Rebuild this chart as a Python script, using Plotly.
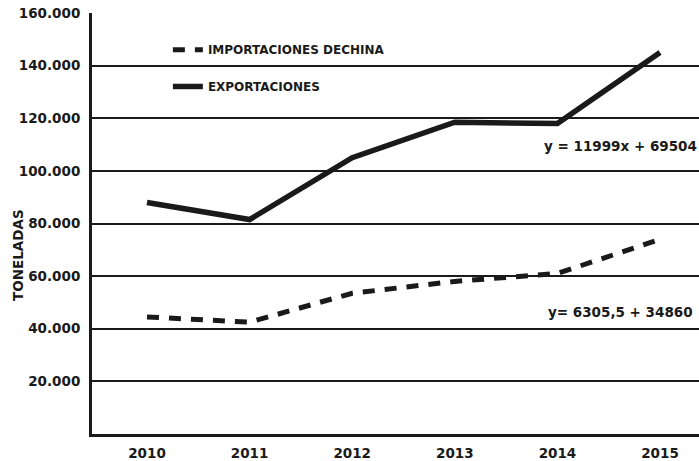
import plotly.graph_objects as go

years = [2010, 2011, 2012, 2013, 2014, 2015]
exportaciones = [88000, 81500, 105000, 118500, 118000, 145000]
importaciones = [44500, 42500, 53500, 58000, 61000, 74000]
y_ticks = [20000, 40000, 60000, 80000, 100000, 120000, 140000, 160000]
x_labels = ["2010", "2011", "2012", "2013", "2014", "2015"]

FONT = "'DejaVu Sans', sans-serif"
INK = "#1a1a1a"

fig = go.Figure()
fig.add_trace(go.Scatter(
    x=years, y=importaciones, mode="lines", name="IMPORTACIONES DECHINA",
    line=dict(color=INK, width=5, dash="12px,10px"), legend="legend",
))
fig.add_trace(go.Scatter(
    x=years, y=exportaciones, mode="lines", name="EXPORTACIONES",
    line=dict(color=INK, width=5.5), legend="legend2",
))

fig.add_annotation(x=1, xref="paper", xanchor="right", y=113200, yref="y",
                   yanchor="top", text="<b>y = 11999x + 69504</b>", showarrow=False,
                   font=dict(family=FONT, size=13.5, color=INK))
fig.add_annotation(x=0.993, xref="paper", xanchor="right", y=50200, yref="y",
                   yanchor="top", text="<b>y= 6305,5 + 34860</b>", showarrow=False,
                   font=dict(family=FONT, size=13.5, color=INK))
fig.add_annotation(x=-0.122, xref="paper", xanchor="center", y=68000, yref="y",
                   yanchor="middle", text="<b>TONELADAS</b>", showarrow=False,
                   textangle=-90, font=dict(family=FONT, size=13.5, color=INK))

legend_common = dict(xanchor="left", yanchor="middle", bgcolor="rgba(0,0,0,0)",
                     font=dict(family=FONT, size=12, weight="bold", color=INK),
                     itemwidth=30)

fig.update_layout(
    width=699, height=461,
    margin=dict(l=92, r=0, t=13, b=24),
    paper_bgcolor="white", plot_bgcolor="white",
    separators=",.",
    font=dict(family=FONT, color=INK),
    showlegend=True,
    legend=dict(x=0.125, y=(437 - 50) / 424, **legend_common),
    legend2=dict(x=0.125, y=(437 - 87) / 424, **legend_common),
    xaxis=dict(range=[2009.464, 2015.38], tickvals=years, ticktext=x_labels,
               showgrid=False, showline=True, linecolor=INK, linewidth=3,
               ticks="", zeroline=False, ticklabelstandoff=5,
               tickfont=dict(family=FONT, size=13.5, weight="bold", color=INK)),
    yaxis=dict(range=[0, 160000], tickvals=y_ticks, tickformat=",",
               showgrid=True, gridcolor=INK, gridwidth=2,
               showline=True, linecolor=INK, linewidth=3,
               ticks="", zeroline=False, ticklabelstandoff=6,
               tickfont=dict(family=FONT, size=13.5, weight="bold", color=INK)),
)

fig.write_html("out.html", config={"displayModeBar": False},
               post_script="document.body.style.margin='0';document.body.style.overflow='hidden';")
